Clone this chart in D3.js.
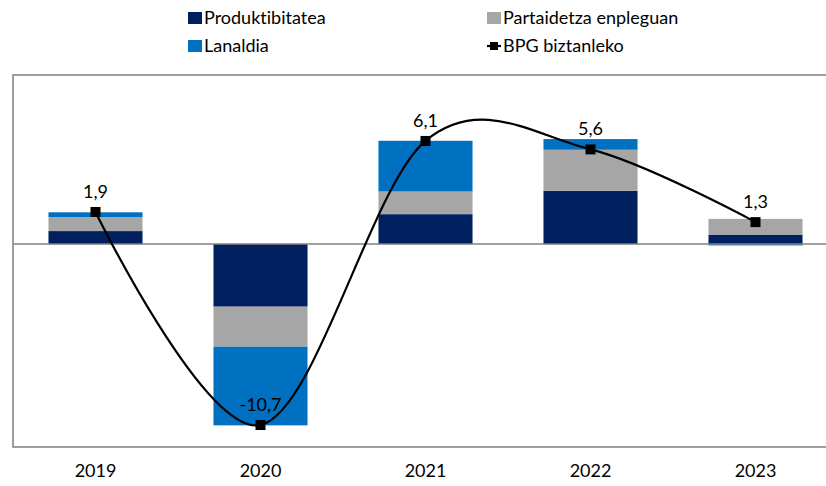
<!DOCTYPE html>
<html>
<head>
<meta charset="utf-8">
<script src="https://cdn.jsdelivr.net/npm/d3@7"></script>
<style>
  body { margin: 0; background: #fff; }
  text { font-family: Lato, "Open Sans", sans-serif; font-variant-ligatures: none; font-feature-settings: "liga" 0, "clig" 0; }
</style>
</head>
<body>
<div id="chart"></div>
<script>
// chart values
var years = ["2019", "2020", "2021", "2022", "2023"];
var produktibitatea = [0.77, -3.7, 1.77, 3.15, 0.56];
var partaidetza = [0.83, -2.37, 1.34, 2.43, 0.93];
var lanaldia = [0.28, -4.65, 3.0, 0.63, -0.08];
var bpg = [1.9, -10.7, 6.1, 5.6, 1.3];
var bpgLabels = ["1,9", "-10,7", "6,1", "5,6", "1,3"];

var seriesNames = ["Produktibitatea", "Partaidetza enpleguan", "Lanaldia"];
var colors = ["#002060", "#A6A6A6", "#0070C0"];

var width = 826, height = 486;
var plot = {left: 13, right: 838, top: 75, bottom: 447};

var svg = d3.select("#chart").append("svg")
    .attr("width", width)
    .attr("height", height);

var x = d3.scaleBand().domain(years).range([plot.left, plot.right]).paddingInner(0.43).paddingOuter(0.215);
var y = d3.scaleLinear().domain([-12, 10]).range([plot.bottom, plot.top]);

// build stacks (positive and negative parts separate)
var table = years.map(function(yr, i) {
  return {year: yr, vals: [produktibitatea[i], partaidetza[i], lanaldia[i]]};
});

var rects = [];
table.forEach(function(d) {
  var pos = 0, neg = 0;
  d.vals.forEach(function(v, k) {
    var y0, y1;
    if (v >= 0) { y0 = pos; y1 = pos + v; pos = y1; }
    else { y0 = neg; y1 = neg + v; neg = y1; }
    rects.push({year: d.year, k: k, y0: y0, y1: y1});
  });
});

// frame
svg.append("rect")
    .attr("x", plot.left)
    .attr("y", plot.top)
    .attr("width", plot.right - plot.left)
    .attr("height", plot.bottom - plot.top)
    .attr("fill", "none")
    .attr("stroke", "#7f7f7f")
    .attr("stroke-width", 1.5);

svg.append("g").selectAll("rect")
    .data(rects)
  .enter().append("rect")
    .attr("x", function(d) { return x(d.year); })
    .attr("width", x.bandwidth())
    .attr("y", function(d) { return y(Math.max(d.y0, d.y1)); })
    .attr("height", function(d) { return Math.abs(y(d.y0) - y(d.y1)); })
    .attr("fill", function(d) { return colors[d.k]; });

// zero line
svg.append("line")
    .attr("x1", plot.left).attr("x2", plot.right)
    .attr("y1", y(0)).attr("y2", y(0))
    .attr("stroke", "#808080")
    .attr("stroke-width", 1.5);

// BPG line
var line = d3.line()
    .x(function(d, i) { return x(years[i]) + x.bandwidth() / 2; })
    .y(function(d) { return y(d); })
    .curve(d3.curveCardinal.tension(0));

svg.append("path")
    .datum(bpg)
    .attr("d", line)
    .attr("fill", "none")
    .attr("stroke", "#000")
    .attr("stroke-width", 2.2);

svg.append("g").selectAll("rect")
    .data(bpg)
  .enter().append("rect")
    .attr("x", function(d, i) { return x(years[i]) + x.bandwidth() / 2 - 5; })
    .attr("y", function(d) { return y(d) - 5; })
    .attr("width", 10).attr("height", 10)
    .attr("fill", "#000");

svg.append("g").selectAll("text")
    .data(bpg)
  .enter().append("text")
    .attr("x", function(d, i) { return x(years[i]) + x.bandwidth() / 2; })
    .attr("y", function(d) { return y(d) - 14; })
    .attr("text-anchor", "middle")
    .attr("font-size", 18)
    .attr("fill", "#000")
    .text(function(d, i) { return bpgLabels[i]; });

// x axis labels
var xAxis = d3.axisBottom(x).tickSize(0).tickPadding(0);
var ax = svg.append("g")
    .attr("transform", "translate(0," + 477 + ")")
    .call(xAxis);
ax.select(".domain").remove();
ax.selectAll("text").attr("font-size", 18).attr("fill", "#000").attr("dy", 0)
    .style("font-family", "Lato, 'Open Sans', sans-serif");

// legend
var legend = svg.append("g");
var legendItems = [
  {name: seriesNames[0], x: 188, y: 18, type: "box", color: colors[0]},
  {name: seriesNames[1], x: 487, y: 18, type: "box", color: colors[1]},
  {name: seriesNames[2], x: 188, y: 46, type: "box", color: colors[2]},
  {name: "BPG biztanleko", x: 487, y: 46, type: "line", color: "#000"}
];
legendItems.forEach(function(d) {
  var g = legend.append("g");
  if (d.type == "box") {
    g.append("rect").attr("x", d.x).attr("y", d.y - 6).attr("width", 14).attr("height", 12).attr("fill", d.color);
  } else {
    g.append("line").attr("x1", d.x).attr("x2", d.x + 14).attr("y1", d.y).attr("y2", d.y)
        .attr("stroke", "#000").attr("stroke-width", 2.2);
    g.append("rect").attr("x", d.x + 3).attr("y", d.y - 4).attr("width", 8).attr("height", 8).attr("fill", "#000");
  }
  g.append("text")
      .attr("x", d.x + 16)
      .attr("y", d.y + 6)
      .attr("font-size", 18)
      .attr("fill", "#000")
      .text(d.name);
});
</script>
</body>
</html>
